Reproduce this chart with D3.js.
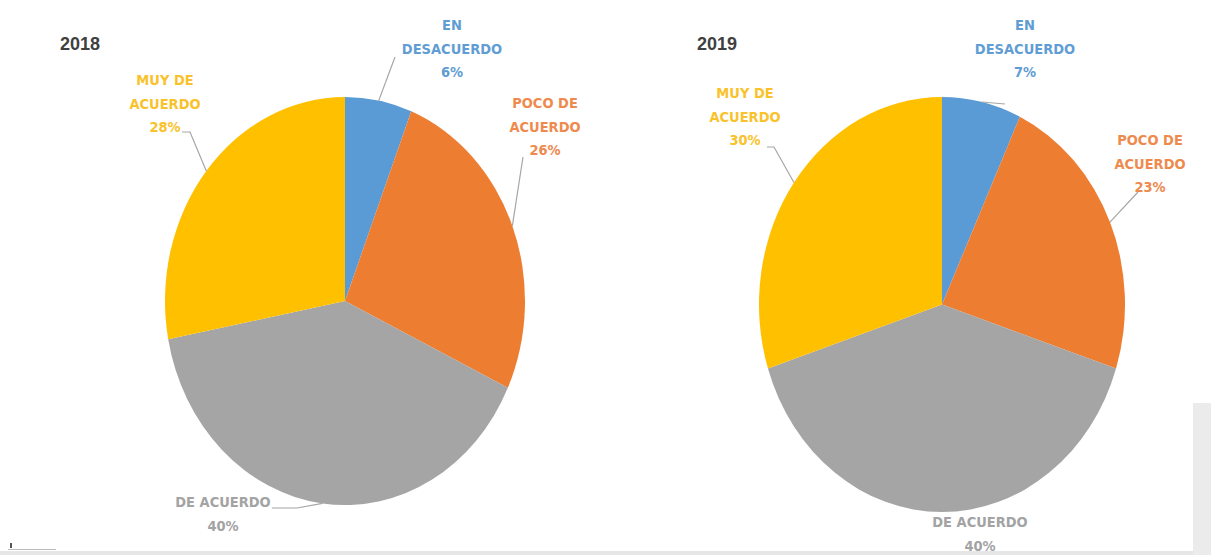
<!DOCTYPE html>
<html>
<head>
<meta charset="utf-8">
<script src="https://cdn.jsdelivr.net/npm/d3@7"></script>
<style>
  html, body { margin: 0; padding: 0; background: #ffffff; }
  svg { display: block; }
  .lbl { font-family: "Liberation Sans Narrow", "DejaVu Sans Condensed", "Roboto", sans-serif; font-weight: bold; }
  .title { font-family: "Liberation Sans", "Noto Sans", sans-serif; font-weight: bold; }
</style>
</head>
<body>
<svg id="chart" width="1211" height="555"></svg>
<script>
// ---- data ----
const categories = ["EN DESACUERDO", "POCO DE ACUERDO", "DE ACUERDO", "MUY DE ACUERDO"];
const labelLines = [["EN", "DESACUERDO"], ["POCO DE", "ACUERDO"], ["DE ACUERDO"], ["MUY DE", "ACUERDO"]];
const years = ["2018", "2019"];
const values2018 = [6, 26, 40, 28];
const values2019 = [7, 23, 40, 30];
const colors = ["#5B9BD5", "#ED7D31", "#A5A5A5", "#FFC000"];
const textColors = ["#5F9DD4", "#EE8A4E", "#A3A3A3", "#F9C22A"];

// ---- layout ----
const layouts = [
  {
    values: values2018, title: years[0], titleX: 60, titleY: 50,
    cx: 345, cy: 301, rx: 180, ry: 204,
    labels: [
      { x: 452, y: 25, leader: [[395, 57]] },
      { x: 545, y: 103, leader: [[523, 157]] },
      { x: 223, y: 502, leader: [[272, 508], [297, 508]] },
      { x: 165, y: 80, leader: [[182, 132], [190, 132]] }
    ]
  },
  {
    values: values2019, title: years[1], titleX: 697, titleY: 50,
    cx: 942, cy: 304.5, rx: 183, ry: 207.5,
    labels: [
      { x: 1025, y: 25, leader: [[1005, 104]] },
      { x: 1150, y: 140, leader: [[1138, 192]] },
      { x: 980, y: 522, leader: null },
      { x: 745, y: 93, leader: [[767, 147], [774, 147]] }
    ]
  }
];

const svg = d3.select("#chart");
const lineH = 23.5;
const pie = d3.pie().sort(null).value(d => d).startAngle(0).endAngle(2 * Math.PI);

layouts.forEach(L => {
  const arcs = pie(L.values);
  const arc = d3.arc().innerRadius(0).outerRadius(L.rx);
  const g = svg.append("g")
    .attr("transform", `translate(${L.cx},${L.cy}) scale(1,${L.ry / L.rx})`);
  g.selectAll("path").data(arcs).enter().append("path")
    .attr("d", arc)
    .attr("fill", (d, i) => colors[i]);

  // title
  svg.append("text").attr("class", "title")
    .attr("x", L.titleX).attr("y", L.titleY)
    .attr("font-size", 18).attr("fill", "#404040")
    .text(L.title);

  // labels + leaders
  arcs.forEach((a, i) => {
    const lab = L.labels[i];
    const mid = (a.startAngle + a.endAngle) / 2;
    const ex = L.cx + L.rx * Math.sin(mid);
    const ey = L.cy - L.ry * Math.cos(mid);
    if (lab.leader) {
      const pts = lab.leader.concat([[ex, ey]]);
      svg.append("path")
        .attr("d", d3.line()(pts))
        .attr("fill", "none")
        .attr("stroke", "#A6A6A6")
        .attr("stroke-width", 1.2);
    }
    const lines = labelLines[i].concat([L.values[i] + "%"]);
    const t = svg.append("text").attr("class", "lbl")
      .attr("text-anchor", "middle")
      .attr("font-size", 14.5)
      .attr("fill", textColors[i]);
    lines.forEach((s, k) => {
      t.append("tspan")
        .attr("x", lab.x)
        .attr("y", lab.y + k * lineH)
        .attr("dy", "0.36em")
        .text(s);
    });
  });
});

// frame decorations
svg.append("rect").attr("x", 0).attr("y", 551).attr("width", 1211).attr("height", 4).attr("fill", "#E6E6E6");
svg.append("rect").attr("x", 1193).attr("y", 403).attr("width", 18).attr("height", 152).attr("fill", "#EBEBEB");
svg.append("rect").attr("x", 10).attr("y", 543).attr("width", 2).attr("height", 5).attr("fill", "#555");
svg.append("rect").attr("x", 8).attr("y", 549).attr("width", 48).attr("height", 1).attr("fill", "#BBBBBB");
</script>
</body>
</html>
